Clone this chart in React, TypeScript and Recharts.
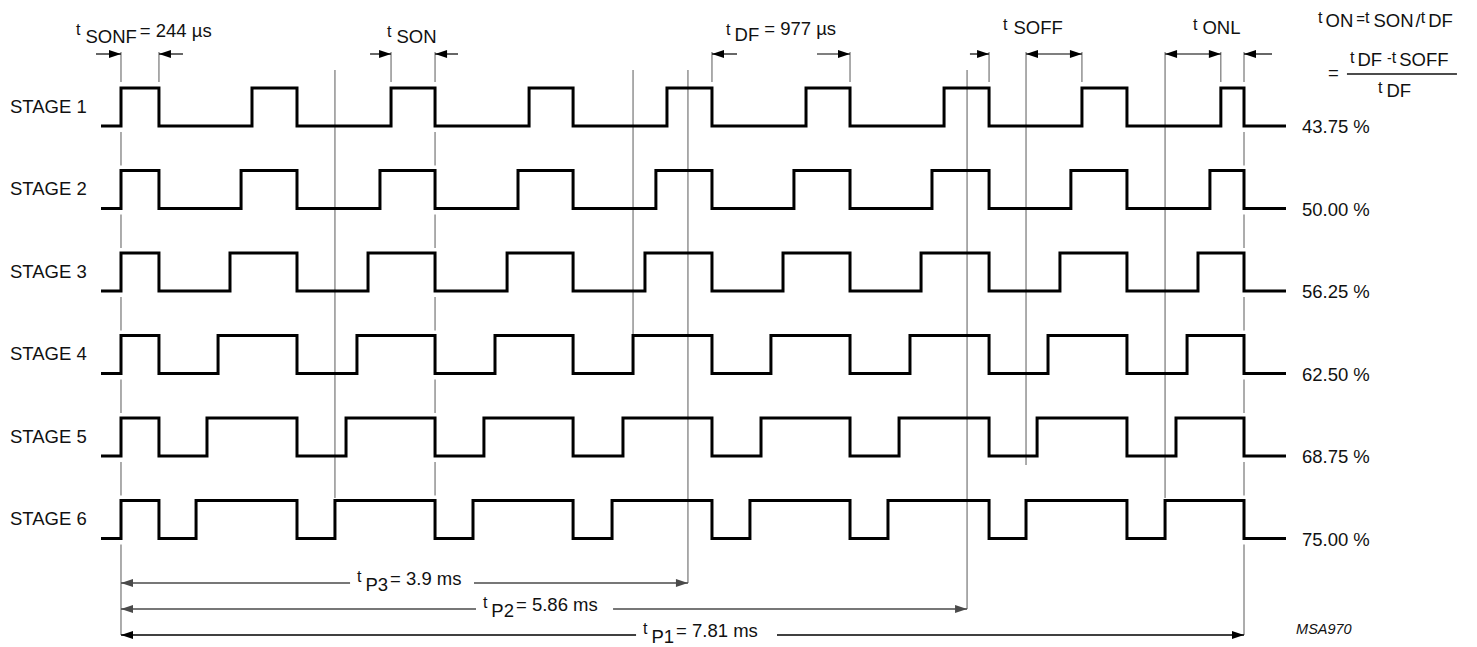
import React from "react";
import { LineChart, Line, XAxis, YAxis, ReferenceLine, ReferenceDot } from "recharts";

// ── Timing data (µs) ──────────────────────────────────────────────
const STAGES = ["STAGE 1", "STAGE 2", "STAGE 3", "STAGE 4", "STAGE 5", "STAGE 6"];
const DUTY = ["43.75 %", "50.00 %", "56.25 %", "62.50 %", "68.75 %", "75.00 %"];

// every stage switches off at the same instants
const FALL_US = [264, 1224, 2184, 3144, 4110, 5070, 6037, 6996, 7810];

// switch-on instants per stage
const RISE_US = [
  [0, 911, 1878, 2838, 3797, 4764, 5724, 6683, 7649],
  [0, 835, 1801, 2761, 3720, 4680, 5640, 6606, 7573],
  [0, 758, 1718, 2685, 3644, 4604, 5564, 6530, 7490],
  [0, 675, 1641, 2601, 3561, 4520, 5487, 6447, 7414],
  [0, 598, 1565, 2524, 3491, 4451, 5411, 6371, 7337],
  [0, 522, 1488, 2448, 3415, 4374, 5334, 6294, 7261],
];

const LEAD_IN_US = -139;
const TAIL_US = 8102;

const PERIOD_NAMES = ["P3", "P2", "P1"];
const PERIOD_TEXT = ["= 3.9 ms", "= 5.86 ms", "= 7.81 ms"];
const PERIOD_END_US = [3943, 5884, 7810];

// ── Layout ────────────────────────────────────────────────────────
const W = 1477;
const H = 647;
const FONT = '"Liberation Sans", Arial, Helvetica, sans-serif';
const FS = 18.5;
const T_MIN = -841.5;
const T_MAX = 9430.4;
const LANE_TOP = 88;
const LANE_PITCH = 82.5;
const PULSE_H = 38;
const GREY = "#5a5a5a";

const laneHigh = (s: number) => LANE_TOP + s * LANE_PITCH;
const laneLow = (s: number) => laneHigh(s) + PULSE_H;

function wave(s: number) {
  const pts: { t: number; level: number }[] = [{ t: LEAD_IN_US, level: 0 }];
  RISE_US[s].forEach((r, k) => {
    pts.push({ t: r, level: 0 }, { t: r, level: 1 });
    pts.push({ t: FALL_US[k], level: 1 }, { t: FALL_US[k], level: 0 });
  });
  pts.push({ t: TAIL_US, level: 0 });
  return pts;
}

// ── Shapes ────────────────────────────────────────────────────────
function ArrowLine(props: any) {
  const { x1, y1, x2, y2, heads = "end", color = "#000", width = 1 } = props;
  const dx = x2 - x1;
  const dy = y2 - y1;
  const len = Math.hypot(dx, dy) || 1;
  const ux = dx / len;
  const uy = dy / len;
  const head = (x: number, y: number, vx: number, vy: number, key: string) => {
    const L = 12;
    const hw = 4;
    const bx = x - vx * L;
    const by = y - vy * L;
    return (
      <polygon
        key={key}
        points={`${x},${y} ${bx - vy * hw},${by + vx * hw} ${bx + vy * hw},${by - vx * hw}`}
        fill={color}
      />
    );
  };
  return (
    <g>
      <line x1={x1} y1={y1} x2={x2} y2={y2} stroke={color} strokeWidth={width} />
      {(heads === "end" || heads === "both") && head(x2, y2, ux, uy, "e")}
      {(heads === "start" || heads === "both") && head(x1, y1, -ux, -uy, "s")}
    </g>
  );
}

type Part = { text: string; size?: number; rise?: number; gap?: number };

function RichText({ cx, cy, parts, size = FS, italic = false }: any) {
  let prev = 0;
  return (
    <text x={cx} y={cy} fontFamily={FONT} fill="#111" fontStyle={italic ? "italic" : "normal"}>
      {(parts as Part[]).map((p, i) => {
        const r = p.rise ?? 0;
        const dy = prev - r;
        prev = r;
        return (
          <tspan key={i} fontSize={p.size ?? size} dy={dy} dx={p.gap ?? 0}>
            {p.text}
          </tspan>
        );
      })}
    </text>
  );
}

const T = (text: string, rise = 8): Part => ({ text, size: 16, rise });

// ── Annotations ───────────────────────────────────────────────────
const LABELS: { t: number; y: number; parts: Part[]; size?: number; italic?: boolean }[] = [
  { t: -313, y: 43, parts: [T("t", 8), { text: "SONF", gap: 5 }, { text: "= 244 µs", rise: 6, gap: 3 }] },
  { t: 1850, y: 43, parts: [T("t", 6), { text: "SON", gap: 5 }] },
  { t: 4208, y: 41, parts: [T("t", 6), { text: "DF", gap: 4 }, { text: "= 977 µs", rise: 6, gap: 5 }] },
  { t: 6134, y: 34, parts: [T("t", 4), { text: "SOFF", gap: 6 }] },
  { t: 7455, y: 34, parts: [T("t", 4), { text: "ONL", gap: 5 }] },
  {
    t: 8325,
    y: 27,
    parts: [
      T("t", 4),
      { text: "ON", gap: 3 },
      { text: "=", size: 15, rise: 3, gap: 3 },
      T("t", 4),
      { text: "SON", gap: 4 },
      { text: "/", gap: 2 },
      T("t", 4),
      { text: "DF", gap: 3 },
    ],
  },
  { t: 8394, y: 79, parts: [{ text: "=" }] },
  {
    t: 8547,
    y: 66,
    parts: [T("t", 3), { text: "DF", gap: 3 }, { text: "-", size: 14, rise: 3, gap: 5 }, T("t", 3), { text: "SOFF", gap: 3 }],
  },
  { t: 8742, y: 97, parts: [T("t", 4), { text: "DF", gap: 4 }] },
  { t: 8172, y: 634, parts: [{ text: "MSA970" }], size: 14.5, italic: true },
];

const TOP_EXT_US = [0, 264, 1878, 2184, 4110, 5070, 6037, 6683, 7649, 7810];
const LONG_EXT: { t: number; y1: number; y2: number }[] = [
  { t: 1488, y1: 70, y2: 498 },
  { t: 3561, y1: 70, y2: 335 },
  { t: 3943, y1: 70, y2: 583 },
  { t: 5884, y1: 70, y2: 609 },
  { t: 6294, y1: 52, y2: 465 },
  { t: 7261, y1: 52, y2: 498 },
];
const DASHED_EXT_US = [0, 2184, 7810];

const TOP_ARROWS: { from: number; to: number; heads: string }[] = [
  { from: -174, to: 0, heads: "end" },
  { from: 431, to: 264, heads: "end" },
  { from: 1732, to: 1878, heads: "end" },
  { from: 2344, to: 2184, heads: "end" },
  { from: 4284, to: 4110, heads: "end" },
  { from: 4840, to: 5070, heads: "end" },
  { from: 5904, to: 6037, heads: "end" },
  { from: 6294, to: 6683, heads: "both" },
  { from: 7261, to: 7649, heads: "both" },
  { from: 8005, to: 7810, heads: "end" },
];

const PERIOD_Y = [583, 609, 635];
const PERIOD_GAP: [number, number][] = [
  [1593, 2455],
  [2469, 3422],
  [3582, 4562],
];
const PERIOD_COLOR = ["#4a4a4a", "#4a4a4a", "#000"];

export default function App() {
  const dashed: { t: number; y1: number; y2: number }[] = [];
  DASHED_EXT_US.forEach((t) => {
    for (let s = 0; s < STAGES.length - 1; s++) {
      dashed.push({ t, y1: laneLow(s) + 6, y2: laneHigh(s + 1) - 5 });
    }
    if (t !== 2184) dashed.push({ t, y1: laneLow(5) + 6, y2: PERIOD_Y[2] });
  });

  return (
    <div style={{ position: "absolute", left: 0, top: 0, background: "#fff" }}>
      <LineChart width={W} height={H} margin={{ top: 0, right: 0, bottom: 0, left: 0 }}>
        <XAxis type="number" dataKey="t" domain={[T_MIN, T_MAX]} allowDataOverflow hide />
        <YAxis type="number" domain={[0, H]} reversed allowDataOverflow hide />

        {TOP_EXT_US.map((t) => (
          <ReferenceLine
            key={`te${t}`}
            segment={[{ x: t, y: 52 }, { x: t, y: 82 }]}
            stroke={GREY}
            strokeWidth={1}
            ifOverflow="visible"
          />
        ))}
        {LONG_EXT.map((e) => (
          <ReferenceLine
            key={`le${e.t}`}
            segment={[{ x: e.t, y: e.y1 }, { x: e.t, y: e.y2 }]}
            stroke={GREY}
            strokeWidth={1}
            ifOverflow="visible"
          />
        ))}
        {dashed.map((e, i) => (
          <ReferenceLine
            key={`de${i}`}
            segment={[{ x: e.t, y: e.y1 }, { x: e.t, y: e.y2 }]}
            stroke={GREY}
            strokeWidth={1}
            ifOverflow="visible"
          />
        ))}

        {STAGES.map((name, s) => (
          <Line
            key={name}
            name={name}
            data={wave(s)}
            dataKey={(d: any) => (d.level ? laneHigh(s) : laneLow(s))}
            type="linear"
            stroke="#000"
            strokeWidth={3}
            strokeLinejoin="miter"
            dot={false}
            activeDot={false}
            isAnimationActive={false}
          />
        ))}

        {TOP_ARROWS.map((a, i) => (
          <ReferenceLine
            key={`ta${i}`}
            segment={[{ x: a.from, y: 54 }, { x: a.to, y: 54 }]}
            ifOverflow="visible"
            shape={(p: any) => <ArrowLine {...p} heads={a.heads} color="#000" width={1.2} />}
          />
        ))}

        {PERIOD_END_US.map((end, i) => (
          <ReferenceLine
            key={`pl${i}`}
            segment={[{ x: PERIOD_GAP[i][0], y: PERIOD_Y[i] }, { x: 0, y: PERIOD_Y[i] }]}
            ifOverflow="visible"
            shape={(p: any) => <ArrowLine {...p} heads="end" color={PERIOD_COLOR[i]} width={1.4} />}
          />
        ))}
        {PERIOD_END_US.map((end, i) => (
          <ReferenceLine
            key={`pr${i}`}
            segment={[{ x: PERIOD_GAP[i][1], y: PERIOD_Y[i] }, { x: end, y: PERIOD_Y[i] }]}
            ifOverflow="visible"
            shape={(p: any) => <ArrowLine {...p} heads="end" color={PERIOD_COLOR[i]} width={1.4} />}
          />
        ))}
        {PERIOD_END_US.map((end, i) => (
          <ReferenceDot
            key={`pt${i}`}
            x={PERIOD_GAP[i][0] + 48}
            y={PERIOD_Y[i] + 8}
            r={0}
            ifOverflow="visible"
            shape={(p: any) => (
              <RichText
                cx={p.cx}
                cy={p.cy}
                parts={[T("t", 9), { text: PERIOD_NAMES[i], gap: 4 }, { text: PERIOD_TEXT[i], rise: 6, gap: 2 }]}
              />
            )}
          />
        ))}

        {/* fraction bar of the duty-cycle formula */}
        <ReferenceLine
          segment={[{ x: 8526, y: 74 }, { x: 9291, y: 74 }]}
          stroke="#111"
          strokeWidth={1.5}
          ifOverflow="visible"
        />

        {STAGES.map((name, s) => (
          <ReferenceDot
            key={`sl${s}`}
            x={-772}
            y={laneHigh(s) + 24.5}
            r={0}
            ifOverflow="visible"
            shape={(p: any) => <RichText cx={p.cx} cy={p.cy} parts={[{ text: name }]} />}
          />
        ))}
        {DUTY.map((d, s) => (
          <ReferenceDot
            key={`dl${s}`}
            x={8213}
            y={laneLow(s) + 7}
            r={0}
            ifOverflow="visible"
            shape={(p: any) => <RichText cx={p.cx} cy={p.cy} parts={[{ text: d }]} />}
          />
        ))}
        {LABELS.map((l, i) => (
          <ReferenceDot
            key={`lb${i}`}
            x={l.t}
            y={l.y}
            r={0}
            ifOverflow="visible"
            shape={(p: any) => (
              <RichText cx={p.cx} cy={p.cy} parts={l.parts} size={l.size ?? FS} italic={l.italic} />
            )}
          />
        ))}
      </LineChart>
    </div>
  );
}
